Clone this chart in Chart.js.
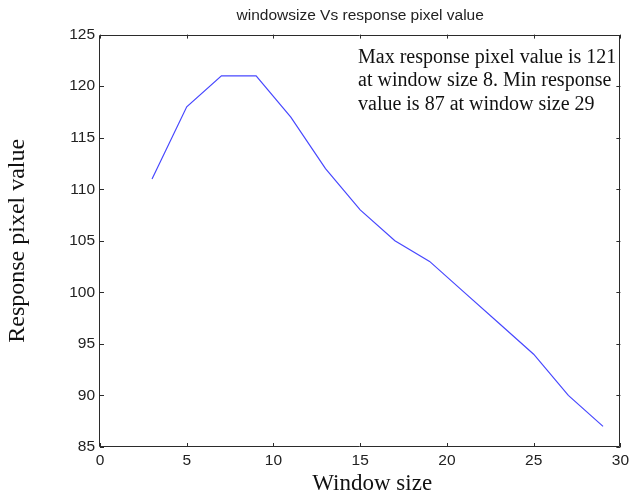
<!DOCTYPE html>
<html>
<head>
<meta charset="utf-8">
<title>windowsize Vs response pixel value</title>
<script src="https://cdn.jsdelivr.net/npm/chart.js@4/dist/chart.umd.min.js"></script>
<style>
  html, body { margin: 0; padding: 0; background: #fff; }
  #wrap { width: 633px; height: 497px; position: relative; }
</style>
</head>
<body>
<div id="wrap"><canvas id="c" width="633" height="497"></canvas></div>
<script>
// Window sizes tested and the response pixel value measured at each
const windowSizes = [3, 5, 7, 9, 11, 13, 15, 17, 19, 21, 23, 25, 27, 29];
const responseValues = [111, 118, 121, 121, 117, 112, 108, 105, 103, 100, 97, 94, 90, 87];

// Axis ranges and tick spacing
const xTicks = [0, 5, 10, 15, 20, 25, 30];
const yTicks = [85, 90, 95, 100, 105, 110, 115, 120, 125];

const chartTitle = 'windowsize Vs response pixel value';
const xTitle = 'Window size';
const yTitle = 'Response pixel value';
const noteLines = [
  'Max response pixel value is 121',
  'at window size 8. Min response',
  'value is 87 at window size 29'
];

const SANS = '"Liberation Sans", Arial, sans-serif';
const SERIF = '"Liberation Serif", "Times New Roman", serif';
const AXIS_COLOR = '#2b2b2b';

// Box around the axes with short inward tick marks on all four sides
const boxPlugin = {
  id: 'axesBox',
  afterDatasetsDraw(chart) {
    const { ctx, chartArea: a, scales: { x, y } } = chart;
    const len = 4;
    ctx.save();
    ctx.strokeStyle = AXIS_COLOR;
    ctx.lineWidth = 1;
    ctx.beginPath();
    ctx.rect(Math.round(a.left) - 0.5, Math.round(a.top) + 0.5,
             Math.round(a.right - a.left), Math.round(a.bottom - a.top) - 1);
    for (const v of xTicks) {
      const px = Math.round(x.getPixelForValue(v)) + 0.5;
      ctx.moveTo(px, a.bottom); ctx.lineTo(px, a.bottom - len);
      ctx.moveTo(px, a.top); ctx.lineTo(px, a.top + len);
    }
    for (const v of yTicks) {
      const py = Math.round(y.getPixelForValue(v)) + 0.5;
      ctx.moveTo(a.left, py); ctx.lineTo(a.left + len, py);
      ctx.moveTo(a.right, py); ctx.lineTo(a.right - len, py);
    }
    ctx.stroke();
    ctx.restore();
  }
};

// Axis labels and the text note in the upper right corner of the plot
const textPlugin = {
  id: 'texts',
  afterDraw(chart) {
    const { ctx, chartArea: a } = chart;
    ctx.save();
    ctx.fillStyle = '#111';

    ctx.font = '20px ' + SERIF;
    ctx.textAlign = 'left';
    ctx.textBaseline = 'alphabetic';
    noteLines.forEach((line, i) => {
      ctx.fillText(line, a.left + 258, a.top + 28 + i * 23.5);
    });

    ctx.textAlign = 'center';
    ctx.textBaseline = 'middle';
    ctx.font = '23px ' + SERIF;
    ctx.fillText(xTitle, (a.left + a.right) / 2 + 12, 484);

    ctx.translate(18, (a.top + a.bottom) / 2);
    ctx.rotate(-Math.PI / 2);
    ctx.font = '24px ' + SERIF;
    ctx.fillText(yTitle, 0, 0);
    ctx.restore();
  }
};

new Chart(document.getElementById('c'), {
  type: 'line',
  data: {
    datasets: [{
      data: windowSizes.map((w, i) => ({ x: w, y: responseValues[i] })),
      borderColor: 'rgb(72, 72, 255)',
      borderWidth: 1.2,
      pointRadius: 0,
      tension: 0,
      fill: false
    }]
  },
  options: {
    responsive: false,
    animation: false,
    layout: { padding: { top: 0, right: 9, left: 0, bottom: 0 } },
    plugins: {
      legend: { display: false },
      tooltip: { enabled: false },
      title: {
        display: true,
        text: chartTitle,
        fullSize: false,
        color: '#222',
        font: { family: SANS, size: 15.5, weight: 'normal' },
        padding: { top: 6, bottom: 10 }
      }
    },
    scales: {
      x: {
        type: 'linear',
        min: 0, max: 30,
        afterBuildTicks: s => { s.ticks = xTicks.map(v => ({ value: v })); },
        afterFit: s => { s.height = 50; },
        grid: { display: false, drawTicks: false },
        border: { display: false },
        ticks: { color: '#222', font: { family: SANS, size: 15.5 }, padding: 4, maxRotation: 0 }
      },
      y: {
        type: 'linear',
        min: 85, max: 125,
        afterBuildTicks: s => { s.ticks = yTicks.map(v => ({ value: v })); },
        afterFit: s => { s.width = 100; },
        grid: { display: false, drawTicks: false },
        border: { display: false },
        ticks: { color: '#222', font: { family: SANS, size: 15.5 }, padding: 5 }
      }
    }
  },
  plugins: [boxPlugin, textPlugin]
});
</script>
</body>
</html>
